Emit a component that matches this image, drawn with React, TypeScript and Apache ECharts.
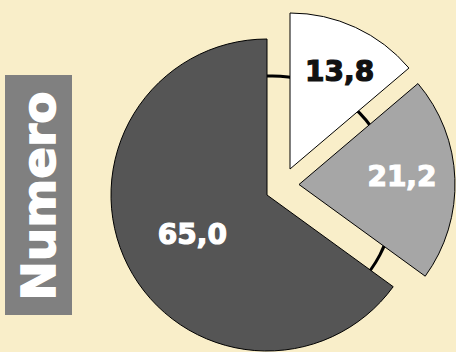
import React, { useEffect, useRef } from 'react';
import * as echarts from 'echarts';

const categories = ['A', 'B', 'C'];
const values = [13.8, 21.2, 65.0];
const sliceColors = ['#ffffff', '#a6a6a6', '#555555'];
const labelColors = ['#111111', '#ffffff', '#ffffff'];
const titleText = 'Numero';

// layout (pixels)
const centers: number[][] = [[290, 169], [299, 184.5], [267, 195]];
const labelShift: number[][] = [[15.6, -24], [22, -4.5], [-2.5, 3]];
const RADIUS = 156;

const fmt = (p: any) => Number(p.value).toFixed(1).replace('.', ',');

export default function App() {
  const ref = useRef<HTMLDivElement>(null);
  useEffect(() => {
    if (!ref.current) return;
    const chart = echarts.init(ref.current, undefined, { renderer: 'svg' });
    const series = values.map((_, i) => ({
      type: 'pie',
      center: centers[i],
      radius: RADIUS,
      startAngle: 90,
      clockwise: true,
      silent: true,
      avoidLabelOverlap: false,
      z: 2 + i,
      emphasis: { disabled: true },
      labelLine: { show: false },
      label: {
        position: 'inside',
        formatter: fmt,
        color: labelColors[i],
        textBorderColor: labelColors[i],
        textBorderWidth: 1.2,
        fontSize: 28,
        fontWeight: 'bold',
        fontFamily: 'DejaVu Sans',
      },
      labelLayout: (p: any) => ({ dx: labelShift[p.dataIndex][0], dy: labelShift[p.dataIndex][1] }),
      data: categories.map((name, j) => ({
        name,
        value: values[j],
        itemStyle:
          j === i
            ? { color: sliceColors[j], borderColor: '#000000', borderWidth: 1 }
            : { color: 'rgba(0,0,0,0)', borderWidth: 0 },
        label: { show: j === i },
      })),
    }));
    chart.setOption({
      animation: false,
      backgroundColor: '#f9eec9',
      graphic: [
        {
          type: 'circle',
          z: 0,
          shape: { cx: 272, cy: 198, r: 122 },
          style: { fill: 'none', stroke: '#000000', lineWidth: 3 },
        },
        {
          type: 'rect',
          z: 0,
          shape: { x: 5, y: 75, width: 67, height: 240 },
          style: { fill: '#808080' },
        },
        {
          type: 'text',
          z: 1,
          x: 38,
          y: 196,
          rotation: Math.PI / 2,
          style: {
            text: titleText,
            fill: '#ffffff',
            stroke: '#ffffff',
            lineWidth: 1.5,
            font: 'bold 47px "DejaVu Sans"',
            align: 'center',
            verticalAlign: 'middle',
          },
        },
      ],
      series,
    });
    return () => chart.dispose();
  }, []);
  return (
    <div
      ref={ref}
      style={{ position: 'fixed', left: 0, top: 0, width: 456, height: 352 }}
    />
  );
}
